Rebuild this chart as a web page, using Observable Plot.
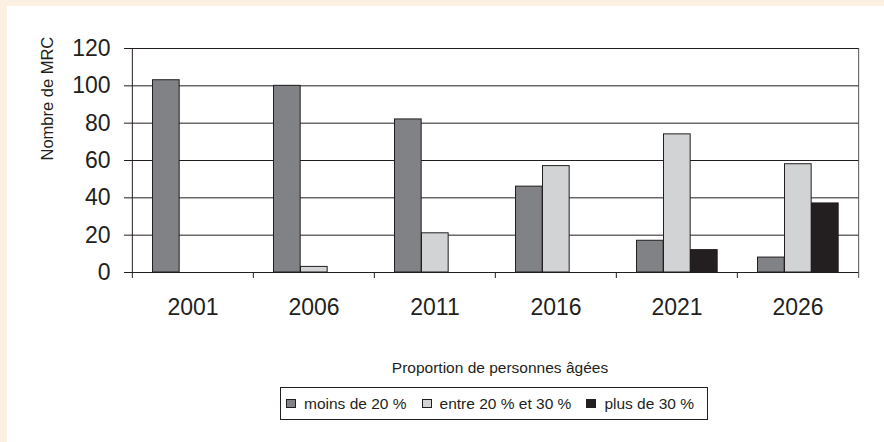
<!DOCTYPE html>
<html>
<head>
<meta charset="utf-8">
<script src="https://cdn.jsdelivr.net/npm/d3@7"></script>
<script src="https://cdn.jsdelivr.net/npm/@observablehq/plot@0.6"></script>
<style>
  html, body { margin: 0; padding: 0; background: #ffffff; }
  #wrap { position: relative; width: 884px; height: 442px; background: #fcf0e3; overflow: hidden;
          font-family: "Liberation Sans", Arial, Helvetica, sans-serif; color: #231f20; }
  #panel { position: absolute; left: 7px; top: 6px; width: 877px; height: 436px; background: #ffffff; }
  #chart { position: absolute; left: 0; top: 0; }
  #xtitle { position: absolute; left: 293px; top: 354px; width: 400px; text-align: center;
            font-size: 15.5px; line-height: 1; white-space: nowrap; }
  #legend { position: absolute; left: 273px; top: 381px; width: 428px; height: 33px; box-sizing: border-box;
            border: 1px solid #231f20; display: flex; align-items: center; padding-left: 5px;
            font-size: 15.5px; white-space: nowrap; }
  .sw { display: inline-block; width: 10px; height: 9px; box-sizing: border-box; border: 1px solid #231f20; margin-right: 8px; }
  .item { display: flex; align-items: center; margin-right: 15px; }
</style>
</head>
<body>
<div id="wrap"><div id="panel">
  <div id="chart"></div>
  <div id="xtitle">Proportion de personnes âgées</div>
  <div id="legend"></div>
</div></div>
<script>
// ---- data ----
const years = ["2001", "2006", "2011", "2016", "2021", "2026"];
const seriesNames = ["moins de 20 %", "entre 20 % et 30 %", "plus de 30 %"];
const moins = [103, 100, 82, 46, 17, 8];
const entre = [0, 3, 21, 57, 74, 58];
const plus = [0, 0, 0, 0, 12, 37];
const yTicks = [0, 20, 40, 60, 80, 100, 120];
const seriesColors = ["#808285", "#d1d3d4", "#231f20"];
const yLabel = "Nombre de MRC";

// ---- layout ----
const W = 877, H = 340;
const mL = 124, mR = 25, mT = 42, mB = 74;
const bw = (W - mL - mR) / years.length;
const pad = 20.5, barW = 27;
const ink = "#231f20";

const valuesBySeries = [moins, entre, plus];
const barMarks = valuesBySeries.map((vals, k) => {
  const rows = years.map((y, i) => ({year: y, value: vals[i], series: seriesNames[k]})).filter(d => d.value > 0);
  return Plot.barY(rows, {
    x: "year", y: "value", fill: seriesColors[k], stroke: ink, strokeWidth: 1,
    insetLeft: pad + k * barW, insetRight: bw - pad - (k + 1) * barW
  });
});

const chart = Plot.plot({
  width: W, height: H,
  marginLeft: mL, marginRight: mR, marginTop: mT, marginBottom: mB,
  style: {fontFamily: '"Liberation Sans", Arial, Helvetica, sans-serif', color: ink, background: "white"},
  x: {domain: years, padding: 0},
  y: {domain: [0, 120]},
  marks: [
    Plot.gridY(yTicks, {stroke: ink, strokeOpacity: 1, strokeWidth: 1}),
    ...barMarks,
    Plot.ruleY([0], {stroke: ink}),
    // category boundary ticks below the axis
    Plot.ruleX(years.slice(1), {x: d => d, y1: 0, y2: 0, dx: -bw / 2, insetBottom: -6, stroke: ink}),
    // left axis line and right border
    Plot.ruleX([years[0]], {x: d => d, dx: -bw / 2, insetBottom: -6, stroke: ink}),
    Plot.ruleX([years[years.length - 1]], {x: d => d, dx: bw / 2, insetBottom: -6, stroke: "#555"}),
    Plot.axisY(yTicks, {tickSize: 7, tickPadding: 14, fontSize: 23, label: null, stroke: ink}),
    Plot.axisX({tickSize: 0, tickPadding: 26, fontSize: 23, label: null}),
    Plot.text([yLabel], {frameAnchor: "left", rotate: -90, dx: -84, fontSize: 16.5, fill: ink})
  ]
});
document.getElementById("chart").appendChild(chart);

// ---- legend ----
const legend = document.getElementById("legend");
seriesNames.forEach((name, k) => {
  const item = document.createElement("span");
  item.className = "item";
  if (k === seriesNames.length - 1) item.style.marginRight = "0";
  const sw = document.createElement("span");
  sw.className = "sw";
  sw.style.background = seriesColors[k];
  item.appendChild(sw);
  item.appendChild(document.createTextNode(name));
  legend.appendChild(item);
});
</script>
</body>
</html>
